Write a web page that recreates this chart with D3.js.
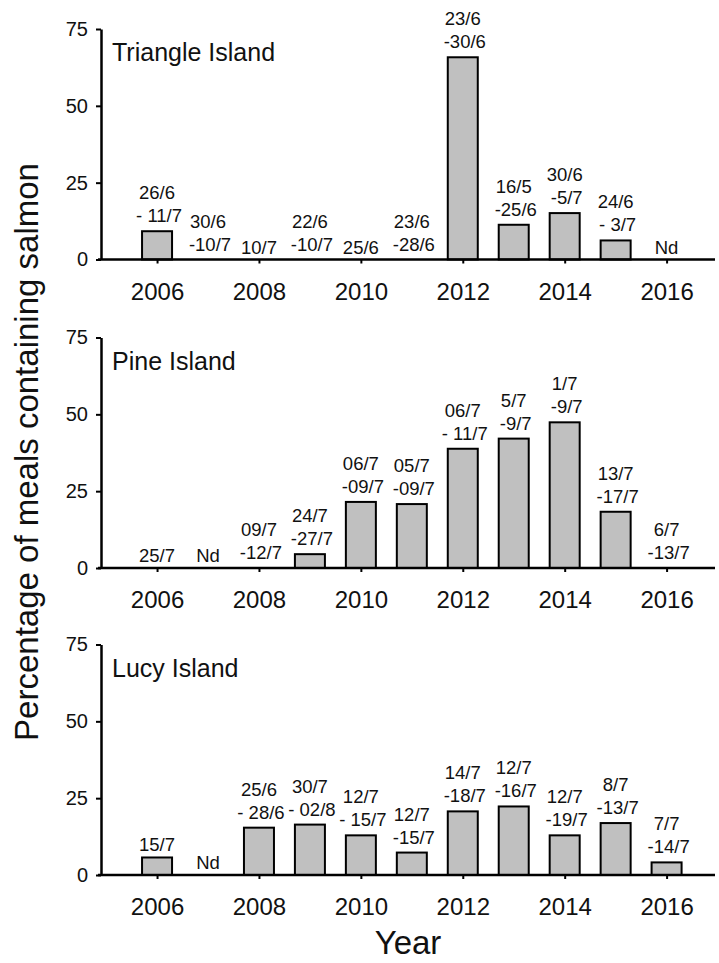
<!DOCTYPE html>
<html>
<head>
<meta charset="utf-8">
<script src="https://cdn.jsdelivr.net/npm/d3@7"></script>
<style>
  html, body { margin: 0; padding: 0; background: #fff; }
  svg { display: block; font-family: "Liberation Sans", Arial, sans-serif; }
</style>
</head>
<body>
<script>
// ---- data ----
const years = [2006, 2007, 2008, 2009, 2010, 2011, 2012, 2013, 2014, 2015, 2016];
const yTicks = [0, 25, 50, 75];
const xTicks = [2006, 2008, 2010, 2012, 2014, 2016];
const islands = ["Triangle Island", "Pine Island", "Lucy Island"];

const triangleValues = [9.2, 0, 0, 0, 0, 0, 65.8, 11.3, 15.1, 6.2, null];
const triangleLabels = [["26/6", "- 11/7"], ["30/6", "-10/7"], ["10/7"], ["22/6", "-10/7"], ["25/6"], ["23/6", "-28/6"], ["23/6", "-30/6"], ["16/5", "-25/6"], ["30/6", "-5/7"], ["24/6", "- 3/7"], ["Nd"]];

const pineValues = [0, null, 0, 4.5, 21.5, 20.8, 38.8, 42.1, 47.4, 18.3, 0];
const pineLabels = [["25/7"], ["Nd"], ["09/7", "-12/7"], ["24/7", "-27/7"], ["06/7", "-09/7"], ["05/7", "-09/7"], ["06/7", "- 11/7"], ["5/7", "-9/7"], ["1/7", "-9/7"], ["13/7", "-17/7"], ["6/7", "-13/7"]];

const lucyValues = [5.7, null, 15.4, 16.4, 12.9, 7.3, 20.7, 22.3, 12.9, 16.9, 4.1];
const lucyLabels = [["15/7"], ["Nd"], ["25/6", "- 28/6"], ["30/7", "- 02/8"], ["12/7", "- 15/7"], ["12/7", "-15/7"], ["14/7", "-18/7"], ["12/7", "-16/7"], ["12/7", "-19/7"], ["8/7", "-13/7"], ["7/7", "-14/7"]];

const panelValues = [triangleValues, pineValues, lucyValues];
const panelLabels = [triangleLabels, pineLabels, lucyLabels];

// ---- layout ----
const W = 719, H = 963;
const panelTops = [29, 337.5, 644.5];
const panelH = 230.5;

const svg = d3.select("body").append("svg").attr("width", W).attr("height", H);

const x = d3.scaleLinear().domain([2004.9, 2016.95]).range([101, 715]);
const barW = 30;

islands.forEach((name, p) => {
  const top = panelTops[p];
  const y = d3.scaleLinear().domain([0, 75]).range([top + panelH, top]);
  const g = svg.append("g");
  const vals = panelValues[p];
  const labs = panelLabels[p];

  // bars
  g.selectAll("rect.bar")
    .data(years.map((yr, i) => ({ yr, v: vals[i] })).filter(d => d.v != null && d.v > 0))
    .join("rect")
    .attr("class", "bar")
    .attr("x", d => x(d.yr) - barW / 2)
    .attr("width", barW)
    .attr("y", d => y(d.v))
    .attr("height", d => y(0) - y(d.v))
    .attr("fill", "#c0c0c0")
    .attr("stroke", "#000")
    .attr("stroke-width", 2);

  // x axis
  const xa = g.append("g")
    .attr("transform", `translate(0,${y(0)})`)
    .call(d3.axisBottom(x).tickValues(xTicks).tickFormat(d3.format("d")).tickSize(4).tickSizeOuter(0));
  xa.select(".domain").attr("stroke-width", 2.5).attr("d", `M${x.range()[0] - 3},0H${x.range()[1]}`);
  xa.selectAll(".tick line").attr("stroke-width", 2);
  xa.selectAll(".tick text").attr("y", 40).attr("dy", null)
    .attr("font-size", 24).attr("font-family", "Liberation Sans, Arial, sans-serif").attr("fill", "#111");

  // y axis
  const ya = g.append("g")
    .attr("transform", `translate(${x.range()[0]},0)`)
    .call(d3.axisLeft(y).tickValues(yTicks).tickSize(5).tickSizeOuter(0).tickPadding(8));
  ya.select(".domain").attr("stroke-width", 2.5);
  ya.selectAll(".tick line").attr("stroke-width", 2);
  ya.selectAll(".tick text").attr("font-size", 20)
    .attr("font-family", "Liberation Sans, Arial, sans-serif").attr("fill", "#111");

  // panel title
  g.append("text")
    .attr("x", 112)
    .attr("y", top + 32)
    .attr("font-size", 25)
    .attr("fill", "#111")
    .text(name);

  // date labels
  years.forEach((yr, i) => {
    const lines = labs[i];
    const v = vals[i] == null ? 0 : vals[i];
    const two = lines.length === 2;
    const base = y(v) - (two ? 9 : 6);
    const t = g.append("text")
      .attr("text-anchor", "middle")
      .attr("font-size", 18.5)
      .attr("fill", "#111");
    lines.forEach((ln, k) => {
      t.append("tspan")
        .attr("x", x(yr) + (k === 1 ? 2 : 0))
        .attr("y", base - (lines.length - 1 - k) * 23)
        .text(ln);
    });
  });
});

// axis titles
svg.append("text")
  .attr("transform", "translate(38,452) rotate(-90)")
  .attr("text-anchor", "middle")
  .attr("font-size", 33)
  .attr("fill", "#111")
  .text("Percentage of meals containing salmon");

svg.append("text")
  .attr("x", 408)
  .attr("y", 954)
  .attr("text-anchor", "middle")
  .attr("font-size", 33)
  .attr("fill", "#111")
  .text("Year");
</script>
</body>
</html>
